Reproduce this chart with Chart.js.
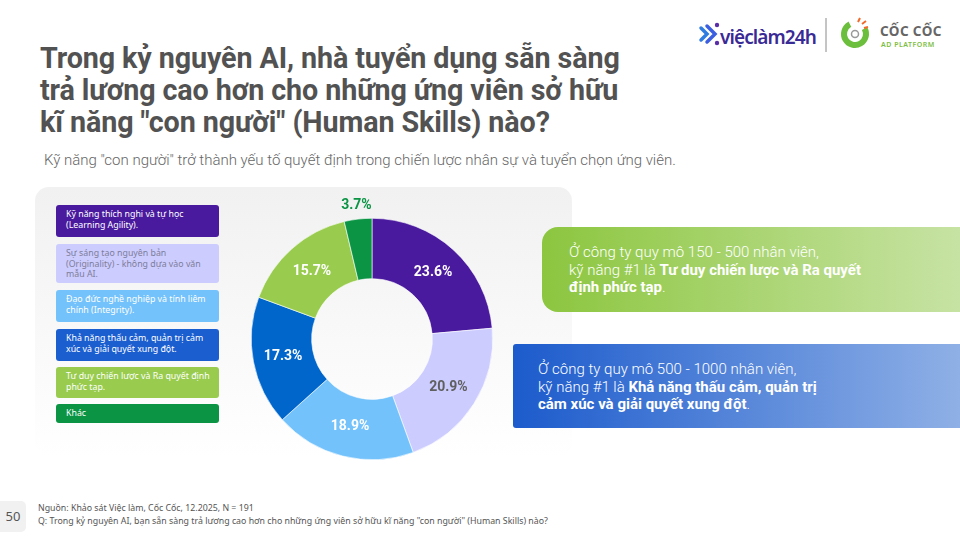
<!DOCTYPE html>
<html><head><meta charset="utf-8">
<script src="https://cdn.jsdelivr.net/npm/chart.js@4.4.0/dist/chart.umd.min.js"></script>
<style>
html,body{margin:0;padding:0}
body{width:960px;height:540px;overflow:hidden;background:#fff;font-family:"Noto Sans",sans-serif;position:relative;color:#4d4d4d}
.abs{position:absolute}
#title{left:40px;top:42px;font-family:Roboto,"Noto Sans",sans-serif;font-size:28.7px;font-weight:700;line-height:32px;color:#525252;letter-spacing:-0.1px;white-space:nowrap}
#subtitle{left:44px;top:151px;font-family:Roboto,"Noto Sans",sans-serif;font-size:15px;color:#666;font-weight:300;white-space:nowrap}
#panel{left:35px;top:187px;width:537px;height:270px;border-radius:14px;background:linear-gradient(#f1f1f1,#ffffff)}
.leg{position:absolute;left:56px;width:163px;border-radius:3px;font-size:8.8px;line-height:10.5px;padding:0 0 0 10px;padding-top:4px;box-sizing:border-box;white-space:nowrap}
#chartBox{left:222px;top:189px;width:300px;height:300px}
.call{position:absolute;color:#fff;font-family:Roboto,"Noto Sans",sans-serif;font-size:15px;line-height:17.5px;white-space:nowrap}
.call b{font-weight:700}
#c1{left:542px;top:227px;width:418px;height:85px;border-radius:16px 0 0 16px;background:linear-gradient(90deg,#8cc63f,#c7e3a4)}
#c2{left:513px;top:344px;width:447px;height:84px;border-radius:3px 0 0 3px;background:linear-gradient(90deg,#1c5bcc,#8fb0e6)}
#c1 .t{position:absolute;left:27px;top:17px;font-weight:300}
#c2 .t{position:absolute;left:25px;top:17px;font-weight:300}
#pg{left:0;top:501px;width:26px;height:31px;background:#f1f1f1;border-radius:0 5px 5px 0;font-size:13px;color:#555;text-align:center;line-height:31px}
#foot{left:38px;top:502px;font-size:8.8px;line-height:13px;color:#555;white-space:nowrap}
</style></head>
<body>
<div id="panel" class="abs"></div>
<div id="title" class="abs">Trong kỷ nguyên AI, nhà tuyển dụng sẵn sàng<br>trả lương cao hơn cho những ứng viên sở hữu<br>kĩ năng "con người" (Human Skills) nào?</div>
<div id="subtitle" class="abs">Kỹ năng "con người" trở thành yếu tố quyết định trong chiến lược nhân sự và tuyển chọn ứng viên.</div>
<div id="legend"></div>
<div id="chartBox" class="abs"><canvas id="c" width="300" height="300"></canvas></div>
<div id="c1" class="call"><div class="t">Ở công ty quy mô 150 - 500 nhân viên,<br>kỹ năng #1 là <b>Tư duy chiến lược và Ra quyết</b><br><b>định phức tạp</b>.</div></div>
<div id="c2" class="call"><div class="t">Ở công ty quy mô 500 - 1000 nhân viên,<br>kỹ năng #1 là <b>Khả năng thấu cảm, quản trị</b><br><b>cảm xúc và giải quyết xung đột</b>.</div></div>
<div id="pg" class="abs">50</div>
<div id="foot" class="abs">Nguồn: Khảo sát Việc làm, Cốc Cốc, 12.2025, N = 191<br>Q: Trong kỷ nguyên AI, bạn sẵn sàng trả lương cao hơn cho những ứng viên sở hữu kĩ năng "con người" (Human Skills) nào?</div>

<!-- logos -->
<svg class="abs" style="left:695px;top:14px" width="260" height="42" viewBox="0 0 260 42">
  <g>
    <path d="M6 14 L12 20 L6 26" stroke="#2f7de1" stroke-width="3.5" fill="none" stroke-linecap="round"/>
    <path d="M12 12 L20 20 L12 28" stroke="#3b5fe0" stroke-width="3.5" fill="none" stroke-linecap="round"/>
    <circle cx="22" cy="11" r="2.2" fill="#5a2ea6"/>
    <circle cx="22" cy="29" r="2.2" fill="#5a2ea6"/>
  </g>
  <text x="25" y="30" font-family="Noto Sans" font-size="19" font-weight="600" fill="#3a2a96" letter-spacing="-0.9">việclàm24h</text>
  <line x1="131" y1="4" x2="131" y2="38" stroke="#8a8a8a" stroke-width="1"/>
  <circle cx="160" cy="20" r="11" fill="none" stroke="#6cbf3c" stroke-width="6" stroke-dasharray="52 17" transform="rotate(-30 160 20)"/>
  <circle cx="160" cy="20" r="3.5" fill="#fff" stroke="#999" stroke-width="1.5"/>
  <path d="M163 8 l2 -4 M167 10 l4 -3 M169 14 l4 -1" stroke="#f06a2a" stroke-width="2"/>
  <text x="185" y="22" font-family="Noto Sans" font-size="13.5" font-weight="700" fill="#666" letter-spacing="0.4">CỐC CỐC</text>
  <text x="186" y="33" font-family="Noto Sans" font-size="7" font-weight="600" fill="#7dbe3f" letter-spacing="0.5">AD PLATFORM</text>
</svg>

<script>
// ---- data ----
const categories = [
  "Kỹ năng thích nghi và tự học (Learning Agility).",
  "Sự sáng tạo nguyên bản (Originality) - không dựa vào văn mẫu AI.",
  "Đạo đức nghề nghiệp và tính liêm chính (Integrity).",
  "Khả năng thấu cảm, quản trị cảm xúc và giải quyết xung đột.",
  "Tư duy chiến lược và Ra quyết định phức tạp.",
  "Khác"
];
const values = [23.6, 20.9, 18.9, 17.3, 15.7, 3.7];
const valueLabels = ["23.6%", "20.9%", "18.9%", "17.3%", "15.7%", "3.7%"];

// ---- styles ----
const sliceColors = ["#4a1a9e", "#ccccff", "#73c2fb", "#0066cc", "#99cc4e", "#0a9444"];
const legendColors = ["#4a1a9e", "#ccccff", "#73c2fb", "#1b5ed0", "#99cc4e", "#0a9444"];
const legendText = ["#ffffff", "#7d7d99", "#ffffff", "#ffffff", "#ffffff", "#ffffff"];
const labelColors = ["#ffffff", "#5f5f5f", "#ffffff", "#ffffff", "#ffffff", "#0a9444"];
const legendTops = [205, 244, 290, 329, 367, 404];
const legendHeights = [32, 39, 32, 32, 31, 19];
const legendLines = [
  ["Kỹ năng thích nghi và tự học", "(Learning Agility)."],
  ["Sự sáng tạo nguyên bản", "(Originality) - không dựa vào văn", "mẫu AI."],
  ["Đạo đức nghề nghiệp và tính liêm", "chính (Integrity)."],
  ["Khả năng thấu cảm, quản trị cảm", "xúc và giải quyết xung đột."],
  ["Tư duy chiến lược và Ra quyết định", "phức tạp."],
  ["Khác"]
];

const legendEl = document.getElementById('legend');
categories.forEach((c, i) => {
  const d = document.createElement('div');
  d.className = 'leg';
  d.style.top = legendTops[i] + 'px';
  d.style.height = legendHeights[i] + 'px';
  d.style.background = legendColors[i];
  d.style.color = legendText[i];
  d.innerHTML = legendLines[i].join('<br>');
  legendEl.appendChild(d);
});

const labelPlugin = {
  id: 'sliceLabels',
  afterDatasetsDraw(chart) {
    const ctx = chart.ctx;
    const meta = chart.getDatasetMeta(0);
    ctx.save();
    ctx.font = '700 14px Roboto, "Noto Sans"';
    ctx.textAlign = 'center';
    ctx.textBaseline = 'middle';
    meta.data.forEach((arc, i) => {
      const p = arc.getProps(['x', 'y', 'startAngle', 'endAngle', 'innerRadius', 'outerRadius'], true);
      const mid = (p.startAngle + p.endAngle) / 2;
      const outside = values[i] < 5;
      const r = outside ? p.outerRadius + 14 : (p.innerRadius + p.outerRadius) / 2;
      ctx.fillStyle = labelColors[i];
      ctx.fillText(valueLabels[i], p.x + Math.cos(mid) * r, p.y + Math.sin(mid) * r);
    });
    ctx.restore();
  }
};

new Chart(document.getElementById('c'), {
  type: 'doughnut',
  data: {
    labels: categories,
    datasets: [{
      data: values,
      backgroundColor: sliceColors,
      borderColor: '#ffffff',
      borderWidth: 0.6,
      hoverOffset: 0
    }]
  },
  options: {
    responsive: false,
    animation: false,
    cutout: '50%',
    layout: { padding: 29 },
    plugins: { legend: { display: false }, tooltip: { enabled: false } }
  },
  plugins: [labelPlugin]
});
</script>
</body></html>
